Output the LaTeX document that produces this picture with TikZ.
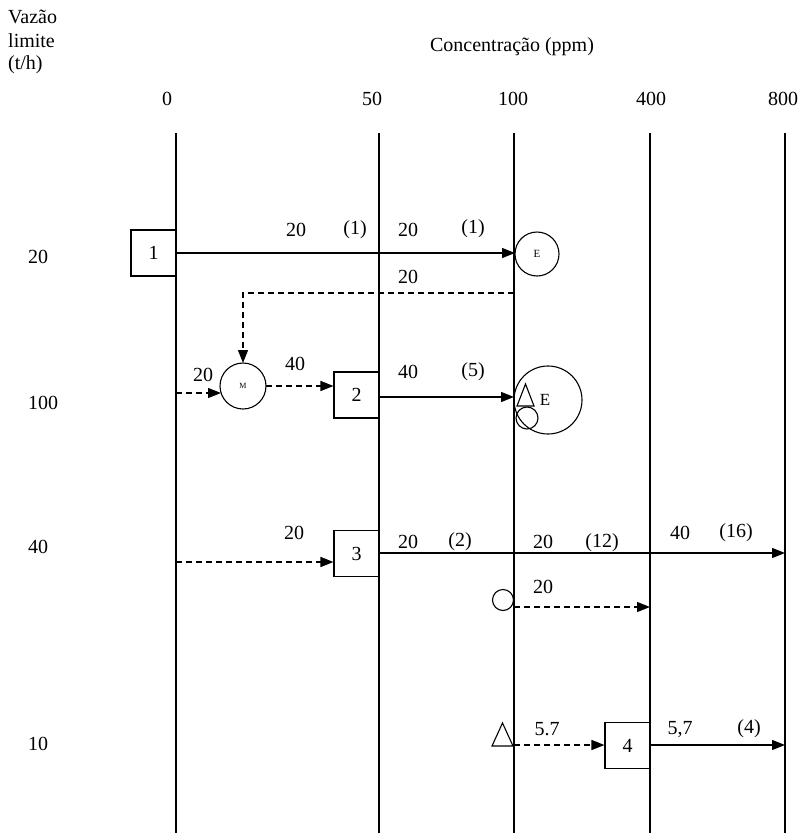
\documentclass[tikz,border=0pt]{standalone}
\usepackage{fontspec}
\setmainfont{Liberation Serif}
\usetikzlibrary{arrows.meta}
\begin{document}
\begin{tikzpicture}[x=1pt,y=-1pt,
  lbl/.style={font=\fontsize{20}{23}\selectfont, inner sep=0pt},
  vline/.style={line width=1.3pt},
  flow/.style={line width=1.3pt, -{Triangle[length=13pt,width=10pt]}},
  dflow/.style={flow, dash pattern=on 6pt off 4pt},
  boxnode/.style={draw, line width=1.1pt, minimum width=45pt, minimum height=46pt, inner sep=0pt, fill=white, font=\fontsize{20}{23}\selectfont},
  circ/.style={draw, circle, line width=1.1pt, inner sep=0pt, outer sep=0pt},
  shp/.style={line width=1.1pt}
]
\useasboundingbox (0,0) rectangle (810,833);
% headers
\node[lbl, anchor=west] (hv) at (8,17) {Vazão};
\node[lbl, anchor=west] (hl) at (8,41) {limite};
\node[lbl, anchor=west] (ht) at (8,65) {(t/h)};
\node[lbl] (hc) at (512,47) {Concentração (ppm)};
\node[lbl] (c0) at (167,99) {0};
\node[lbl] (c50) at (372,99) {50};
\node[lbl] (c100) at (513,99) {100};
\node[lbl] (c400) at (651,99) {400};
\node[lbl] (c800) at (783,99) {800};
% row labels
\node[lbl, anchor=west] (r20) at (28,257) {20};
\node[lbl, anchor=west] (r100) at (28,403) {100};
\node[lbl, anchor=west] (r40) at (28,547) {40};
\node[lbl, anchor=west] (r10) at (28,744) {10};
% vertical lines
\foreach \n/\x in {a/176,b/379,c/514,d/650,e/785}{
  \coordinate (\n t) at (\x,133);
  \coordinate (\n b) at (\x,833);
  \draw[vline] (\n t) -- (\n b);
}
% row 20
\node[boxnode] (b1) at (153.5,253) {1};
\node[circ, minimum size=44pt, font=\fontsize{11}{12}\selectfont] (e1) at (537,254) {E};
\draw[flow] (b1.east) -- (b1.east -| e1.west);
\node[lbl] (l11) at (296,230) {20};
\node[lbl] (l12) at (355,230) {(1)};
\node[lbl] (l13) at (408,230) {20};
\node[lbl] (l14) at (473,229) {(1)};
\node[lbl] (l15) at (408,277) {20};
% recycle
\node[circ, minimum size=46pt, font=\fontsize{8}{9}\selectfont] (m) at (243,386) {M};
\coordinate (r1) at (514,293);
\draw[dflow] (r1) -- (r1 -| m.north) -- (m.north);
% row 100
\coordinate (in2) at (176,393);
\draw[dflow] (in2) -- (in2 -| m.197);
\node[lbl] (l21) at (203,375) {20};
\node[lbl] (l22) at (295,364) {40};
\node[boxnode] (b2) at (356.5,395) {2};
\draw[dflow] (m.east) -- (m.east -| b2.west);
\node[circ, minimum size=68pt] (e2) at (548,400) {};
\draw[flow] (b2.east |- 0,397) -- (e2.west |- 0,397);
\draw[shp] (517,406) -- (525.5,384) -- (534,406) -- cycle;
\node[circ, minimum size=22pt] (s2) at (527,418) {};
\node[lbl, font=\fontsize{17}{20}\selectfont] (e2l) at (545,400) {E};
\node[lbl] (l23) at (408,372) {40};
\node[lbl] (l24) at (473,372) {(5)};
% row 40
\node[boxnode] (b3) at (356.5,553.5) {3};
\coordinate (in3) at (176,562);
\draw[dflow] (in3) -- (in3 -| b3.west);
\coordinate (o3) at (785,553);
\draw[flow] (b3.east |- o3) -- (o3);
\node[lbl] (l31) at (294,533) {20};
\node[lbl] (l32) at (408,542) {20};
\node[lbl] (l33) at (460,542) {(2)};
\node[lbl] (l34) at (543,542) {20};
\node[lbl] (l35) at (602,543) {(12)};
\node[lbl] (l36) at (680,533) {40};
\node[lbl] (l37) at (736,533) {(16)};
\node[circ, minimum size=21pt] (s3) at (503,600) {};
\coordinate (d3s) at (514,607);
\coordinate (d3e) at (650,607);
\draw[dflow] (d3s) -- (d3e);
\node[lbl] (l38) at (543,587) {20};
% row 10
\draw[shp] (492,746) -- (502.5,723) -- (513,746) -- cycle;
\node[boxnode] (b4) at (627.5,745.5) {4};
\coordinate (d4s) at (514,745);
\draw[dflow] (d4s) -- (d4s -| b4.west);
\coordinate (o4) at (785,745);
\draw[flow] (b4.east |- o4) -- (o4);
\node[lbl] (l41) at (547,729) {5.7};
\node[lbl] (l42) at (680,729) {5,7};
\node[lbl] (l43) at (749,729) {(4)};
\end{tikzpicture}
\end{document}
